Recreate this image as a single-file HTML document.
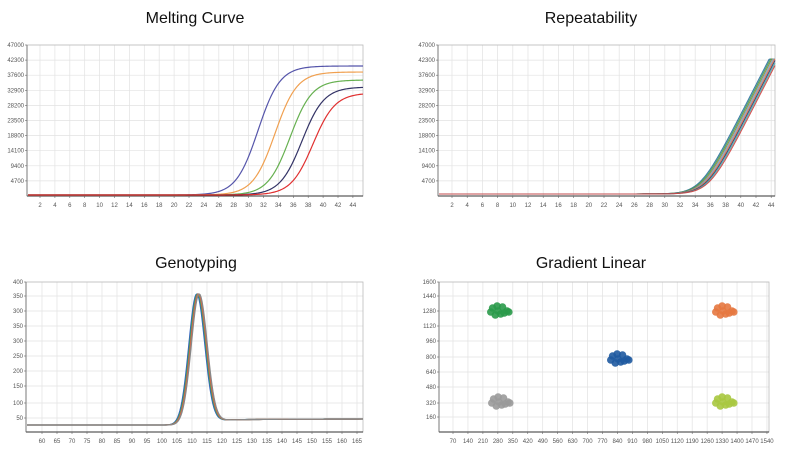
<!DOCTYPE html>
<html><head><meta charset="utf-8">
<style>
html,body{margin:0;padding:0;background:#fff;}
svg{display:block;font-family:"Liberation Sans",sans-serif;}
.t{font-size:16px;fill:#111;text-anchor:middle;}
.l{font-size:6px;fill:#555;}
</style></head>
<body>
<svg id="s" width="791" height="463" viewBox="0 0 791 463" xmlns="http://www.w3.org/2000/svg">
<text class="t" x="195" y="23">Melting Curve</text>
<text class="t" x="591" y="23">Repeatability</text>
<text class="t" x="196" y="268">Genotyping</text>
<text class="t" x="591" y="268">Gradient Linear</text>
</svg>
<script>
const s=document.getElementById('s');const NS='http://www.w3.org/2000/svg';
function el(t,a,txt){const e=document.createElementNS(NS,t);for(const k in a)e.setAttribute(k,a[k]);if(txt!=null)e.textContent=txt;s.appendChild(e);return e;}
function frame(L,R,T,B,ylabs,yp,xlabs,xp){
  for(let i=0;i<xp.length;i++)el('line',{x1:xp[i],x2:xp[i],y1:T,y2:B,stroke:'#e2e2e2','stroke-width':0.7});
  for(let i=0;i<yp.length;i++)el('line',{x1:L,x2:R,y1:yp[i],y2:yp[i],stroke:'#e2e2e2','stroke-width':0.7});
  el('rect',{x:L,y:T,width:R-L,height:B-T,fill:'none',stroke:'#bbb','stroke-width':0.8});
  el('line',{x1:L,x2:R,y1:B,y2:B,stroke:'#333','stroke-width':1});
  el('line',{x1:L,x2:L,y1:T,y2:B,stroke:'#666','stroke-width':0.8});
  for(let i=0;i<ylabs.length;i++){el('text',{class:'l',x:L-3,y:yp[i]+2,'text-anchor':'end'},ylabs[i]);el('line',{x1:L-2,x2:L,y1:yp[i],y2:yp[i],stroke:'#666','stroke-width':0.6});}
  for(let i=0;i<xlabs.length;i++){el('text',{class:'l',x:xp[i],y:B+11,'text-anchor':'middle'},xlabs[i]);el('line',{x1:xp[i],x2:xp[i],y1:B,y2:B+2,stroke:'#666','stroke-width':0.6});}
}
const yl1=['47000','42300','37600','32900','28200','23500','18800','14100','9400','4700'];
function ypos(T,step,n){const a=[];for(let i=0;i<n;i++)a.push(T+i*step);return a;}
const xl1=[];for(let v=2;v<=44;v+=2)xl1.push(''+v);
frame(27,363,45,196,yl1,ypos(45,15.1,10),xl1,xl1.map((v,i)=>40+i*14.9));
[[66,258,'#5555aa'],[72,275,'#f0a050'],[80,290,'#66b050'],[87,302,'#333366'],[93,313,'#e03030']].forEach(([p,m,c])=>{
 let d='';for(let x=28;x<=363;x+=1){const y=195-(195-p)/(1+Math.exp(-(x-m)/11));d+=(x==28?'M':'L')+x+' '+y.toFixed(2);}
 el('path',{d,fill:'none',stroke:c,'stroke-width':1.2});});
frame(438,775,45,196,yl1,ypos(45,15.1,10),xl1,xl1.map((v,i)=>452+i*15.2));
['#2a6e9e','#3a9a5a','#888833','#6a9ad0','#e07040','#333366','#40b0b0','#d04040'].forEach((c,k)=>{
 let d='';const off=k*1.3;for(let x=439;x<=775;x+=1){
  const u=x-off;
  const z=(u-700)/9; const y=194-Math.min(135,9*Math.log(1+Math.exp(z))*1.95);
  d+=(x==439?'M':'L')+x+' '+y.toFixed(2);}
 el('path',{d,fill:'none',stroke:c,'stroke-width':1.1,opacity:0.9});});
const yl3=['400','350','300','350','300','250','200','150','100','50'];
const yp3=[282,296,311,326,341,356,371,386,403,418];
const xl3=[];for(let v=60;v<=165;v+=5)xl3.push(''+v);
frame(26,363,282,432,yl3,yp3,xl3,xl3.map((v,i)=>42+i*15));
['#3060c0','#40a060','#e06040','#888888'].forEach((c,k)=>{
 let d='';const m=198+(k-1.5)*0.8;for(let x=27;x<=363;x+=1){
  const base=x<m?425:(419+2*Math.exp(-(x-m)/40));
  const y=base-(base-294)*Math.exp(-Math.pow((x-m)/8,2)/2);
  d+=(x==27?'M':'L')+x+' '+y.toFixed(2);}
 el('path',{d,fill:'none',stroke:c,'stroke-width':1.3});});
const yl4=['1600','1440','1280','1120','960','800','640','480','320','160'];
const yp4=[282,296,311,326,341,357,372,387,403,417];
const xl4=['70','140','210','280','350','420','490','560','630','700','770','840','910','980','1050','1120','1190','1260','1330','1400','1470','1540'];
frame(439,769,282,432,yl4,yp4,xl4,xl4.map((v,i)=>453+i*14.95));
const dots=[[0,0],[-6,-3],[5,-4],[-3,4],[7,2],[10,0],[-8,1],[3,3],[-1,-5],[12,1]];
[[498,311,'#2a9a4a'],[723,311,'#e57840'],[618,359,'#1f5aa0'],[499,402,'#9a9a9a'],[723,402,'#a8c840']].forEach(([cx,cy,c])=>{
 dots.forEach(([dx,dy])=>el('circle',{cx:cx+dx*0.9,cy:cy+dy,r:3.8,fill:c,opacity:0.9}));});
</script>
</body></html>
